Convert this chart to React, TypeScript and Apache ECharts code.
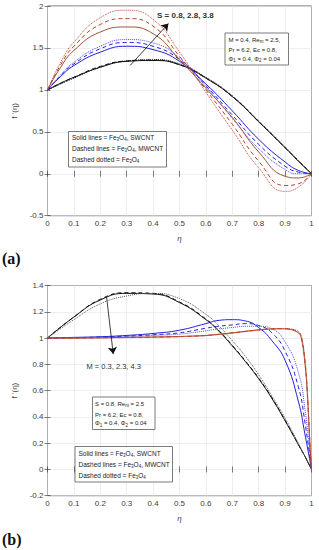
import React, { useEffect, useRef } from "react";
import * as echarts from "echarts";

// ---------- Panel (a): effect of S ----------
const etaA = [0, 0.05, 0.1, 0.2, 0.3, 0.4, 0.5, 0.6, 0.7, 0.8, 0.9, 0.95, 1];
const aS08Solid = [1, 1.08, 1.15, 1.27, 1.34, 1.35, 1.3, 1.14, 0.92, 0.62, 0.31, 0.15, 0];
const aS08Dashed = [1, 1.08, 1.15, 1.28, 1.345, 1.355, 1.3, 1.14, 0.92, 0.62, 0.31, 0.155, 0];
const aS08Dotted = [1, 1.07, 1.14, 1.27, 1.345, 1.36, 1.31, 1.15, 0.93, 0.63, 0.32, 0.16, 0];
const aS28Solid = [1, 1.16, 1.29, 1.45, 1.52, 1.48, 1.34, 1.07, 0.75, 0.41, 0.14, 0.04, 0];
const aS28Dashed = [1, 1.17, 1.31, 1.49, 1.565, 1.52, 1.36, 1.05, 0.7, 0.35, 0.09, 0.02, 0];
const aS28Dotted = [1, 1.18, 1.33, 1.52, 1.6, 1.56, 1.38, 1.04, 0.66, 0.3, 0.05, 0.0, 0];
const aS38Solid = [1, 1.27, 1.47, 1.69, 1.75, 1.67, 1.36, 1.02, 0.67, 0.26, -0.03, -0.05, 0];
const aS38Dashed = [1, 1.3, 1.52, 1.78, 1.85, 1.76, 1.4, 1.0, 0.59, 0.15, -0.14, -0.12, 0];
const aS38Dotted = [1, 1.33, 1.57, 1.86, 1.95, 1.84, 1.45, 0.97, 0.52, 0.07, -0.21, -0.16, 0];

// ---------- Panel (b): effect of M ----------
const etaB = [0, 0.1, 0.2, 0.3, 0.4, 0.5, 0.6, 0.65, 0.7, 0.75, 0.8, 0.85, 0.9, 0.95, 0.975, 1];
const bM03Solid = [1, 1.16, 1.29, 1.34, 1.335, 1.27, 1.14, 1.05, 0.94, 0.82, 0.69, 0.54, 0.37, 0.19, 0.1, 0];
const bM03Dashed = [1, 1.16, 1.295, 1.345, 1.34, 1.275, 1.145, 1.055, 0.945, 0.825, 0.695, 0.545, 0.375, 0.19, 0.1, 0];
const bM03Dotted = [1, 1.14, 1.26, 1.32, 1.34, 1.3, 1.18, 1.09, 0.98, 0.86, 0.72, 0.56, 0.39, 0.2, 0.1, 0];
const bM23Solid = [1, 1.005, 1.01, 1.02, 1.035, 1.06, 1.11, 1.135, 1.14, 1.13, 1.08, 0.98, 0.83, 0.52, 0.27, 0];
const bM23Dashed = [1, 1.003, 1.008, 1.015, 1.025, 1.04, 1.075, 1.09, 1.1, 1.11, 1.095, 1.04, 0.9, 0.63, 0.36, 0];
const bM23Dotted = [1, 1.002, 1.005, 1.01, 1.02, 1.03, 1.055, 1.07, 1.08, 1.09, 1.09, 1.07, 0.97, 0.74, 0.46, 0];
const etaC = [0, 0.1, 0.2, 0.3, 0.4, 0.5, 0.6, 0.7, 0.8, 0.85, 0.9, 0.93, 0.95, 0.96, 0.97, 0.98, 0.985, 0.99, 0.995, 1];
const bM43Solid = [1, 1.0, 1.002, 1.005, 1.008, 1.012, 1.02, 1.04, 1.063, 1.07, 1.07, 1.06, 1.04, 1.01, 0.9, 0.7, 0.55, 0.35, 0.15, 0];
const bM43Dashed = [1, 1.0, 1.002, 1.004, 1.007, 1.011, 1.019, 1.039, 1.062, 1.07, 1.072, 1.064, 1.045, 1.02, 0.92, 0.72, 0.56, 0.36, 0.16, 0];
const bM43Dotted = [1, 1.0, 1.001, 1.003, 1.006, 1.01, 1.018, 1.037, 1.06, 1.068, 1.073, 1.067, 1.05, 1.025, 0.93, 0.74, 0.58, 0.37, 0.16, 0];

const yTicksA = { min: -0.5, max: 2, interval: 0.5 };
const yTicksB = { min: -0.2, max: 1.4, interval: 0.2 };
const xTicks = { min: 0, max: 1, interval: 0.1 };

const BLACK = "#111111";
const BLUE = "#1f1fd8";
const BLUE_DOT = "#4a4aff";
const BROWN = "#a3532f";
const BROWN_DASH = "#a8482a";
const RED_DOT = "#c8453a";

const FONT = "Liberation Sans, Arial, sans-serif";
const fmt = (v: number) => String(Math.round(v * 10) / 10);

function mk(xs: number[], ys: number[], color: string, type: any, g: number, width = 1, smooth = 0.5) {
  return {
    type: "line",
    xAxisIndex: g,
    yAxisIndex: g,
    data: xs.map((x, i) => [x, ys[i]]),
    smooth,
    showSymbol: false,
    symbol: "none",
    silent: true,
    lineStyle: { color, width, type },
    z: 3,
  };
}

function mainX(g: number) {
  return {
    type: "value",
    gridIndex: g,
    ...xTicks,
    axisLine: { show: false },
    axisTick: { inside: true, length: 3, lineStyle: { color: "#262626", width: 0.6 } },
    splitLine: { show: true, lineStyle: { color: "#e2e2e2", width: 0.6 } },
    axisLabel: { fontSize: 8, color: "#404040", margin: 4, fontFamily: FONT, formatter: fmt },
    name: "η",
    nameLocation: "middle",
    nameGap: 19,
    nameTextStyle: { fontSize: 8, color: "#404040", fontStyle: "italic", fontFamily: FONT },
  };
}
function mirrorX(g: number) {
  return {
    type: "value",
    gridIndex: g,
    position: "top",
    ...xTicks,
    axisLine: { show: false },
    axisTick: { inside: true, length: 3, lineStyle: { color: "#262626", width: 0.6 } },
    splitLine: { show: false },
    axisLabel: { show: false },
  };
}
function mainY(g: number, t: any) {
  return {
    type: "value",
    gridIndex: g,
    ...t,
    axisLine: { show: false },
    axisTick: { inside: true, length: 3, lineStyle: { color: "#262626", width: 0.6 } },
    splitLine: { show: true, lineStyle: { color: "#e2e2e2", width: 0.6 } },
    axisLabel: { fontSize: 8, color: "#404040", margin: 4, fontFamily: FONT, formatter: fmt },
    name: "f '(η)",
    nameLocation: "middle",
    nameGap: 17,
    nameRotate: 90,
    nameTextStyle: { fontSize: 8, color: "#404040", fontFamily: FONT },
  };
}
function mirrorY(g: number, t: any) {
  return {
    type: "value",
    gridIndex: g,
    position: "right",
    ...t,
    axisLine: { show: false },
    axisTick: { inside: true, length: 3, lineStyle: { color: "#262626", width: 0.6 } },
    splitLine: { show: false },
    axisLabel: { show: false },
  };
}

const subRich = {
  s: { fontSize: 4.5, fontFamily: FONT, fill: "#222", verticalAlign: "bottom", lineHeight: 9, padding: [3, 0, 0, 0] },
};

function txt(x: number, y: number, text: string, size: number, extra: any = {}) {
  return {
    type: "text",
    x,
    y,
    z: 20,
    style: {
      text,
      fontSize: size,
      fontFamily: FONT,
      fill: "#222",
      verticalAlign: "middle",
      rich: { ...subRich, n: { fontSize: size, fontFamily: FONT, fill: "#222", lineHeight: 9 } },
      ...extra,
    },
  };
}
function box(x: number, y: number, w: number, h: number) {
  return {
    type: "rect",
    z: 19,
    shape: { x, y, width: w, height: h },
    style: { fill: "#fff", stroke: "#444", lineWidth: 0.7 },
  };
}

export default function App() {
  const ref = useRef<HTMLDivElement>(null);
  useEffect(() => {
    const chart = echarts.init(ref.current!, null, { renderer: "svg" });
    const arrowStyle = { color: "#111", width: 0.8, type: "solid" };
    const seriesA0 = mk(etaA, aS08Solid, BLACK, "solid", 0);
    (seriesA0 as any).markLine = {
      silent: true,
      symbol: ["none", "arrow"],
      symbolSize: 7,
      label: { show: false },
      lineStyle: arrowStyle,
      data: [[{ coord: [0.3125, 1.29] }, { coord: [0.458, 1.79] }]],
    };
    const seriesB0 = mk(etaB, bM03Solid, BLACK, "solid", 1);
    (seriesB0 as any).markLine = {
      silent: true,
      symbol: ["none", "arrow"],
      symbolSize: 7,
      label: { show: false },
      lineStyle: arrowStyle,
      data: [[{ coord: [0.224, 1.31] }, { coord: [0.249, 0.878] }]],
    };
    const option: any = {
      animation: false,
      backgroundColor: "#fff",
      grid: [
        { left: 47.5, top: 6, width: 264, height: 209.7, show: true, borderColor: "#262626", borderWidth: 0.7, backgroundColor: "#fff" },
        { left: 47.5, top: 285.5, width: 264, height: 210.2, show: true, borderColor: "#262626", borderWidth: 0.7, backgroundColor: "#fff" },
      ],
      xAxis: [mainX(0), mainX(1), mirrorX(0), mirrorX(1)],
      yAxis: [mainY(0, yTicksA), mainY(1, yTicksB), mirrorY(0, yTicksA), mirrorY(1, yTicksB)],
      series: [
        seriesA0,
        mk(etaA, aS08Dashed, BLACK, [4, 3], 0),
        mk(etaA, aS08Dotted, BLACK, "dotted", 0),
        mk(etaA, aS28Solid, BLUE, "solid", 0),
        mk(etaA, aS28Dashed, BLUE, [4, 3], 0),
        mk(etaA, aS28Dotted, BLUE_DOT, "dotted", 0),
        mk(etaA, aS38Solid, BROWN, "solid", 0),
        mk(etaA, aS38Dashed, BROWN_DASH, [4, 3], 0),
        mk(etaA, aS38Dotted, RED_DOT, "dotted", 0),
        seriesB0,
        mk(etaB, bM03Dashed, BLACK, [4, 3], 1),
        mk(etaB, bM03Dotted, "#555", "dotted", 1),
        mk(etaB, bM23Solid, BLUE, "solid", 1),
        mk(etaB, bM23Dashed, BLUE, [4, 3], 1),
        mk(etaB, bM23Dotted, BLUE_DOT, "dotted", 1),
        mk(etaC, bM43Solid, BROWN, "solid", 1, 1, 0.25),
        mk(etaC, bM43Dashed, BROWN_DASH, [4, 3], 1, 1, 0.25),
        mk(etaC, bM43Dotted, RED_DOT, "dotted", 1, 1, 0.25),
      ],
      graphic: [
        // panel (a) annotations
        txt(157, 15, "S = 0.8, 2.8, 3.8", 8, { fontWeight: "bold", fill: "#333" }),
        box(225, 33, 63.5, 32),
        txt(228.5, 39.5, "{n|M = 0.4, Re}{s|m}{n| = 2.5,}", 6),
        txt(228.5, 49.5, "{n|Pr = 6.2, Ec = 0.8,}", 6),
        txt(228.5, 58.5, "{n|Φ}{s|1}{n| = 0.4, Φ}{s|2}{n| = 0.04}", 6),
        box(68.5, 131.5, 98, 35.5),
        txt(72, 137, "{n|Solid lines = Fe}{s|3}{n|O}{s|4}{n|, SWCNT}", 6.5),
        txt(72, 148.5, "{n|Dashed lines = Fe}{s|3}{n|O}{s|4}{n|, MWCNT}", 6.5),
        txt(72, 159.5, "{n|Dashed dotted = Fe}{s|3}{n|O}{s|4}", 6.5),
        {
          type: "text",
          x: 2,
          y: 258,
          style: { text: "(a)", fontSize: 16, fontWeight: "bold", fontFamily: "Liberation Serif, serif", fill: "#111", verticalAlign: "middle" },
        },
        // panel (b) annotations
        txt(86.5, 366.5, "M = 0.3, 2.3, 4.3", 7.5, { fill: "#333" }),
        box(92.5, 397, 62.5, 32.5),
        txt(95, 403.5, "{n|S = 0.8, Re}{s|m}{n| = 2.5}", 6),
        txt(95, 414.5, "{n|Pr = 6.2, Ec = 0.8,}", 6),
        txt(95, 423, "{n|Φ}{s|1}{n| = 0.4, Φ}{s|2}{n| = 0.04}", 6),
        box(75, 446.5, 97.5, 35.5),
        txt(78.5, 453, "{n|Solid lines = Fe}{s|3}{n|O}{s|4}{n|, SWCNT}", 6.5),
        txt(78.5, 464.5, "{n|Dashed lines = Fe}{s|3}{n|O}{s|4}{n|, MWCNT}", 6.5),
        txt(78.5, 475.5, "{n|Dashed dotted = Fe}{s|3}{n|O}{s|4}", 6.5),
        {
          type: "text",
          x: 2,
          y: 539,
          style: { text: "(b)", fontSize: 16, fontWeight: "bold", fontFamily: "Liberation Serif, serif", fill: "#111", verticalAlign: "middle" },
        },
      ],
    };
    chart.setOption(option);
    return () => chart.dispose();
  }, []);
  return (
    <div
      ref={ref}
      style={{ position: "fixed", left: 0, top: 0, width: 319, height: 550, background: "#fff" }}
    />
  );
}
